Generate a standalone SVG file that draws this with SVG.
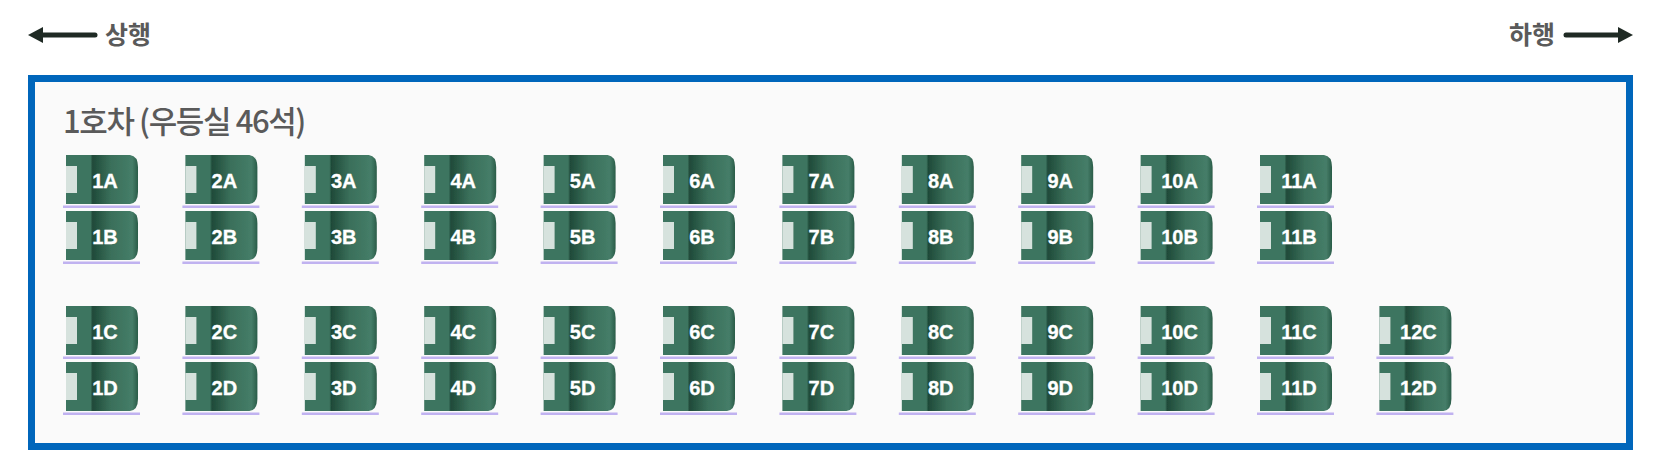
<svg xmlns="http://www.w3.org/2000/svg" xmlns:xlink="http://www.w3.org/1999/xlink" width="1672" height="457" viewBox="0 0 1672 457">
<style>
.t{font-family:"Liberation Sans",Arial,sans-serif;font-weight:700;font-size:20px;fill:#fff;stroke:#fff;stroke-width:.3;text-anchor:middle}
.k{font-family:"Noto Sans CJK KR","Liberation Sans",sans-serif;fill:#5a5a5a}
.a{stroke:#1f2a24;stroke-width:5;stroke-linecap:round;fill:none}
</style>
<defs>
<linearGradient id="g" x1="0" x2="1" y1="0" y2="0">
<stop offset="0" stop-color="#3e7560"/><stop offset=".34" stop-color="#3e7560"/><stop offset=".37" stop-color="#1f4a39"/><stop offset=".62" stop-color="#3a6f5a"/><stop offset=".92" stop-color="#457d68"/><stop offset="1" stop-color="#2a5c48"/>
</linearGradient>
<filter id="b" x="-5%" y="-5%" width="110%" height="110%"><feGaussianBlur stdDeviation=".6"/></filter>
<g id="s" filter="url(#b)">
<path d="M0 0H64Q72 1 72 12V37Q72 48 64 49H0Z" fill="url(#g)"/>
<rect x="0" y="11" width="11" height="27" fill="#d6e2dd"/>
<rect x="-3" y="50.500" width="77" height="2.500" fill="#c0b2f0"/>
</g>
</defs>
<rect width="1672" height="457" fill="#fff"/>
<rect id="car" x="31.500" y="78.500" width="1598" height="368" fill="#fafafa" stroke="#0066bb" stroke-width="7"/>
<g id="connectors">
<path class="a" d="M40 35H95"/><path d="M28 35L43 27V43Z" fill="#1f2a24"/>
<path class="a" d="M1566 35H1622"/><path d="M1633 35L1618 27V43Z" fill="#1f2a24"/>
</g>
<g id="dir-up"><text class="k" x="105" y="44" font-size="25" font-weight="700">상행</text></g>
<g id="dir-down"><text class="k" x="1509" y="44" font-size="25" font-weight="700">하행</text></g>
<g id="title"><text class="k" x="63" y="133" font-size="31" font-weight="500" letter-spacing="-1.400" fill="#444">1호차 (우등실 46석)</text></g>
<g id="seat-1A"><use href="#s" x="66" y="155"/><text class="t" x="105" y="188">1A</text></g>
<g id="seat-2A"><use href="#s" x="185.400" y="155"/><text class="t" x="224.400" y="188">2A</text></g>
<g id="seat-3A"><use href="#s" x="304.800" y="155"/><text class="t" x="343.800" y="188">3A</text></g>
<g id="seat-4A"><use href="#s" x="424.200" y="155"/><text class="t" x="463.200" y="188">4A</text></g>
<g id="seat-5A"><use href="#s" x="543.600" y="155"/><text class="t" x="582.600" y="188">5A</text></g>
<g id="seat-6A"><use href="#s" x="663" y="155"/><text class="t" x="702" y="188">6A</text></g>
<g id="seat-7A"><use href="#s" x="782.400" y="155"/><text class="t" x="821.400" y="188">7A</text></g>
<g id="seat-8A"><use href="#s" x="901.800" y="155"/><text class="t" x="940.800" y="188">8A</text></g>
<g id="seat-9A"><use href="#s" x="1021.200" y="155"/><text class="t" x="1060.200" y="188">9A</text></g>
<g id="seat-10A"><use href="#s" x="1140.600" y="155"/><text class="t" x="1179.600" y="188">10A</text></g>
<g id="seat-11A"><use href="#s" x="1260" y="155"/><text class="t" x="1299" y="188">11A</text></g>
<g id="seat-1B"><use href="#s" x="66" y="211"/><text class="t" x="105" y="244">1B</text></g>
<g id="seat-2B"><use href="#s" x="185.400" y="211"/><text class="t" x="224.400" y="244">2B</text></g>
<g id="seat-3B"><use href="#s" x="304.800" y="211"/><text class="t" x="343.800" y="244">3B</text></g>
<g id="seat-4B"><use href="#s" x="424.200" y="211"/><text class="t" x="463.200" y="244">4B</text></g>
<g id="seat-5B"><use href="#s" x="543.600" y="211"/><text class="t" x="582.600" y="244">5B</text></g>
<g id="seat-6B"><use href="#s" x="663" y="211"/><text class="t" x="702" y="244">6B</text></g>
<g id="seat-7B"><use href="#s" x="782.400" y="211"/><text class="t" x="821.400" y="244">7B</text></g>
<g id="seat-8B"><use href="#s" x="901.800" y="211"/><text class="t" x="940.800" y="244">8B</text></g>
<g id="seat-9B"><use href="#s" x="1021.200" y="211"/><text class="t" x="1060.200" y="244">9B</text></g>
<g id="seat-10B"><use href="#s" x="1140.600" y="211"/><text class="t" x="1179.600" y="244">10B</text></g>
<g id="seat-11B"><use href="#s" x="1260" y="211"/><text class="t" x="1299" y="244">11B</text></g>
<g id="seat-1C"><use href="#s" x="66" y="306"/><text class="t" x="105" y="339">1C</text></g>
<g id="seat-2C"><use href="#s" x="185.400" y="306"/><text class="t" x="224.400" y="339">2C</text></g>
<g id="seat-3C"><use href="#s" x="304.800" y="306"/><text class="t" x="343.800" y="339">3C</text></g>
<g id="seat-4C"><use href="#s" x="424.200" y="306"/><text class="t" x="463.200" y="339">4C</text></g>
<g id="seat-5C"><use href="#s" x="543.600" y="306"/><text class="t" x="582.600" y="339">5C</text></g>
<g id="seat-6C"><use href="#s" x="663" y="306"/><text class="t" x="702" y="339">6C</text></g>
<g id="seat-7C"><use href="#s" x="782.400" y="306"/><text class="t" x="821.400" y="339">7C</text></g>
<g id="seat-8C"><use href="#s" x="901.800" y="306"/><text class="t" x="940.800" y="339">8C</text></g>
<g id="seat-9C"><use href="#s" x="1021.200" y="306"/><text class="t" x="1060.200" y="339">9C</text></g>
<g id="seat-10C"><use href="#s" x="1140.600" y="306"/><text class="t" x="1179.600" y="339">10C</text></g>
<g id="seat-11C"><use href="#s" x="1260" y="306"/><text class="t" x="1299" y="339">11C</text></g>
<g id="seat-12C"><use href="#s" x="1379.400" y="306"/><text class="t" x="1418.400" y="339">12C</text></g>
<g id="seat-1D"><use href="#s" x="66" y="362"/><text class="t" x="105" y="395">1D</text></g>
<g id="seat-2D"><use href="#s" x="185.400" y="362"/><text class="t" x="224.400" y="395">2D</text></g>
<g id="seat-3D"><use href="#s" x="304.800" y="362"/><text class="t" x="343.800" y="395">3D</text></g>
<g id="seat-4D"><use href="#s" x="424.200" y="362"/><text class="t" x="463.200" y="395">4D</text></g>
<g id="seat-5D"><use href="#s" x="543.600" y="362"/><text class="t" x="582.600" y="395">5D</text></g>
<g id="seat-6D"><use href="#s" x="663" y="362"/><text class="t" x="702" y="395">6D</text></g>
<g id="seat-7D"><use href="#s" x="782.400" y="362"/><text class="t" x="821.400" y="395">7D</text></g>
<g id="seat-8D"><use href="#s" x="901.800" y="362"/><text class="t" x="940.800" y="395">8D</text></g>
<g id="seat-9D"><use href="#s" x="1021.200" y="362"/><text class="t" x="1060.200" y="395">9D</text></g>
<g id="seat-10D"><use href="#s" x="1140.600" y="362"/><text class="t" x="1179.600" y="395">10D</text></g>
<g id="seat-11D"><use href="#s" x="1260" y="362"/><text class="t" x="1299" y="395">11D</text></g>
<g id="seat-12D"><use href="#s" x="1379.400" y="362"/><text class="t" x="1418.400" y="395">12D</text></g>
</svg>
